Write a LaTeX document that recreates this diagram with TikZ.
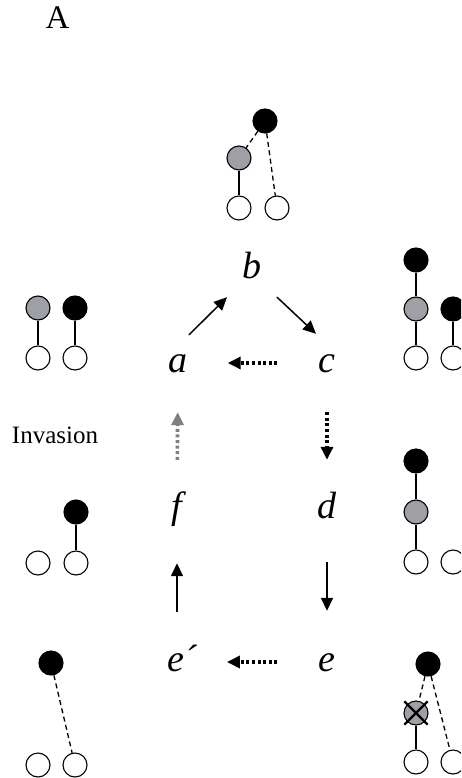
\documentclass[tikz,border=0pt]{standalone}
\usepackage{fontspec}
\setmainfont{Liberation Serif}
\usetikzlibrary{arrows.meta,calc}

\definecolor{cellgray}{RGB}{158,160,166}
\definecolor{invgray}{RGB}{128,128,128}

\begin{document}
\begin{tikzpicture}[x=1pt, y=-1pt,
    blk/.style={circle, draw=black, fill=black, line width=1.1pt, minimum size=24pt, inner sep=0pt},
    gry/.style={blk, fill=cellgray},
    wht/.style={blk, fill=white},
    stem/.style={line width=1.3pt},
    dstem/.style={line width=1.3pt, dash pattern=on 5pt off 3.5pt},
    cross/.style={line width=2.2pt, shorten <=-4pt, shorten >=-4pt},
    lett/.style={font=\fontsize{38}{40}\selectfont\itshape, inner sep=0pt, text height=26pt, text depth=8pt, anchor=base},
    solidarr/.style={-{Triangle[length=13pt,width=12pt]}, line width=1.5pt},
    dotarr/.style={-{Triangle[length=13pt,width=12pt]}, line width=3.6pt, dash pattern=on 3pt off 2.6pt}]
   \useasboundingbox (0,0) rectangle (461,778);
   \clip (0,0) rectangle (461,778);

   \node[font=\fontsize{33}{33}\selectfont, anchor=base] (lbl) at (57.5,29) {A};
   \node[font=\fontsize{25}{25}\selectfont, anchor=base] (inv) at (55,443) {Invasion};

   %cycle
   \node[lett] (b) at (252,278) {b};
   \node[lett] (a) at (178,372) {a};
   \node[lett] (c) at (327,372) {c};
   \node[lett] (d) at (327,518) {d};
   \node[lett] (f) at (177,518) {f};
   \node[lett, anchor=base west] (ep) at (167,671) {e´};
   \node[lett] (e) at (327,671) {e};

   %top (b)
   \node[blk] (tb) at (265,121) {};
   \node[gry] (tg) at (239,158) {};
   \node[wht] (tw1) at (239,208) {};
   \node[wht] (tw2) at (277,208) {};

   %left (a)
   \node[gry] (ag) at (38,308) {};
   \node[blk] (ab) at (75,308) {};
   \node[wht] (aw1) at (38,358) {};
   \node[wht] (aw2) at (75,358) {};
   %left (f)
   \node[blk] (fb) at (76,512) {};
   \node[wht] (fw1) at (38,563) {};
   \node[wht] (fw2) at (76,563) {};
   %left (e')
   \node[blk] (pb) at (51,663) {};
   \node[wht] (pw1) at (38,765) {};
   \node[wht] (pw2) at (75,765) {};

   %right (c)
   \node[blk] (cb1) at (416,260) {};
   \node[gry] (cg) at (416,309) {};
   \node[blk] (cb2) at (453,309) {};
   \node[wht] (cw1) at (416,358) {};
   \node[wht] (cw2) at (453,358) {};
   %right (d)
   \node[blk] (db) at (416,461) {};
   \node[gry] (dg) at (416,512) {};
   \node[wht] (dw1) at (416,562) {};
   \node[wht] (dw2) at (453,562) {};
   %right (e)
   \node[blk] (eb) at (428,664) {};
   \node[gry] (eg) at (416,713) {};
   \node[wht] (ew1) at (416,762) {};
   \node[wht] (ew2) at (453,762) {};

  \path
    (tb) edge[dstem] (tg)
         edge[dstem] (tw2)
    (tg) edge[stem] (tw1)

    (ag) edge[stem] (aw1)
    (ab) edge[stem] (aw2)
    (fb) edge[stem] (fw2)
    (pb) edge[dstem] (pw2)

    (cb1) edge[stem] (cg)
    (cg) edge[stem] (cw1)
    (cb2) edge[stem] (cw2)
    (db) edge[stem] (dg)
    (dg) edge[stem] (dw1)
    (eb) edge[dstem] (eg)
         edge[dstem] (ew2)
    (eg) edge[stem] (ew1)
    %dead cell
    (eg.north west) edge[cross] (eg.south east)
    (eg.north east) edge[cross] (eg.south west);

  \draw[solidarr] ($(a.north)+(11,-11)$) -- ($(b.south)+(-25,11)$);
  \draw[solidarr] ($(b.south)+(25,11)$) -- ($(c.north)+(-11,-12)$);
  \path
    (c) edge[dotarr, shorten <=41pt, shorten >=40pt] (a)
    (c) edge[dotarr, shorten <=32pt, shorten >=32pt] (d)
    (d) edge[solidarr, shorten <=36pt, shorten >=34pt] (e)
    (e) edge[dotarr, shorten <=41pt, shorten >=30pt] (ep)
    (f) edge[dotarr, draw=invgray, shorten <=32pt, shorten >=32pt] (a);
  \draw[solidarr, shorten <=33pt, shorten >=37pt] (f |- ep.north) -- (f.south);
\end{tikzpicture}
\end{document}
